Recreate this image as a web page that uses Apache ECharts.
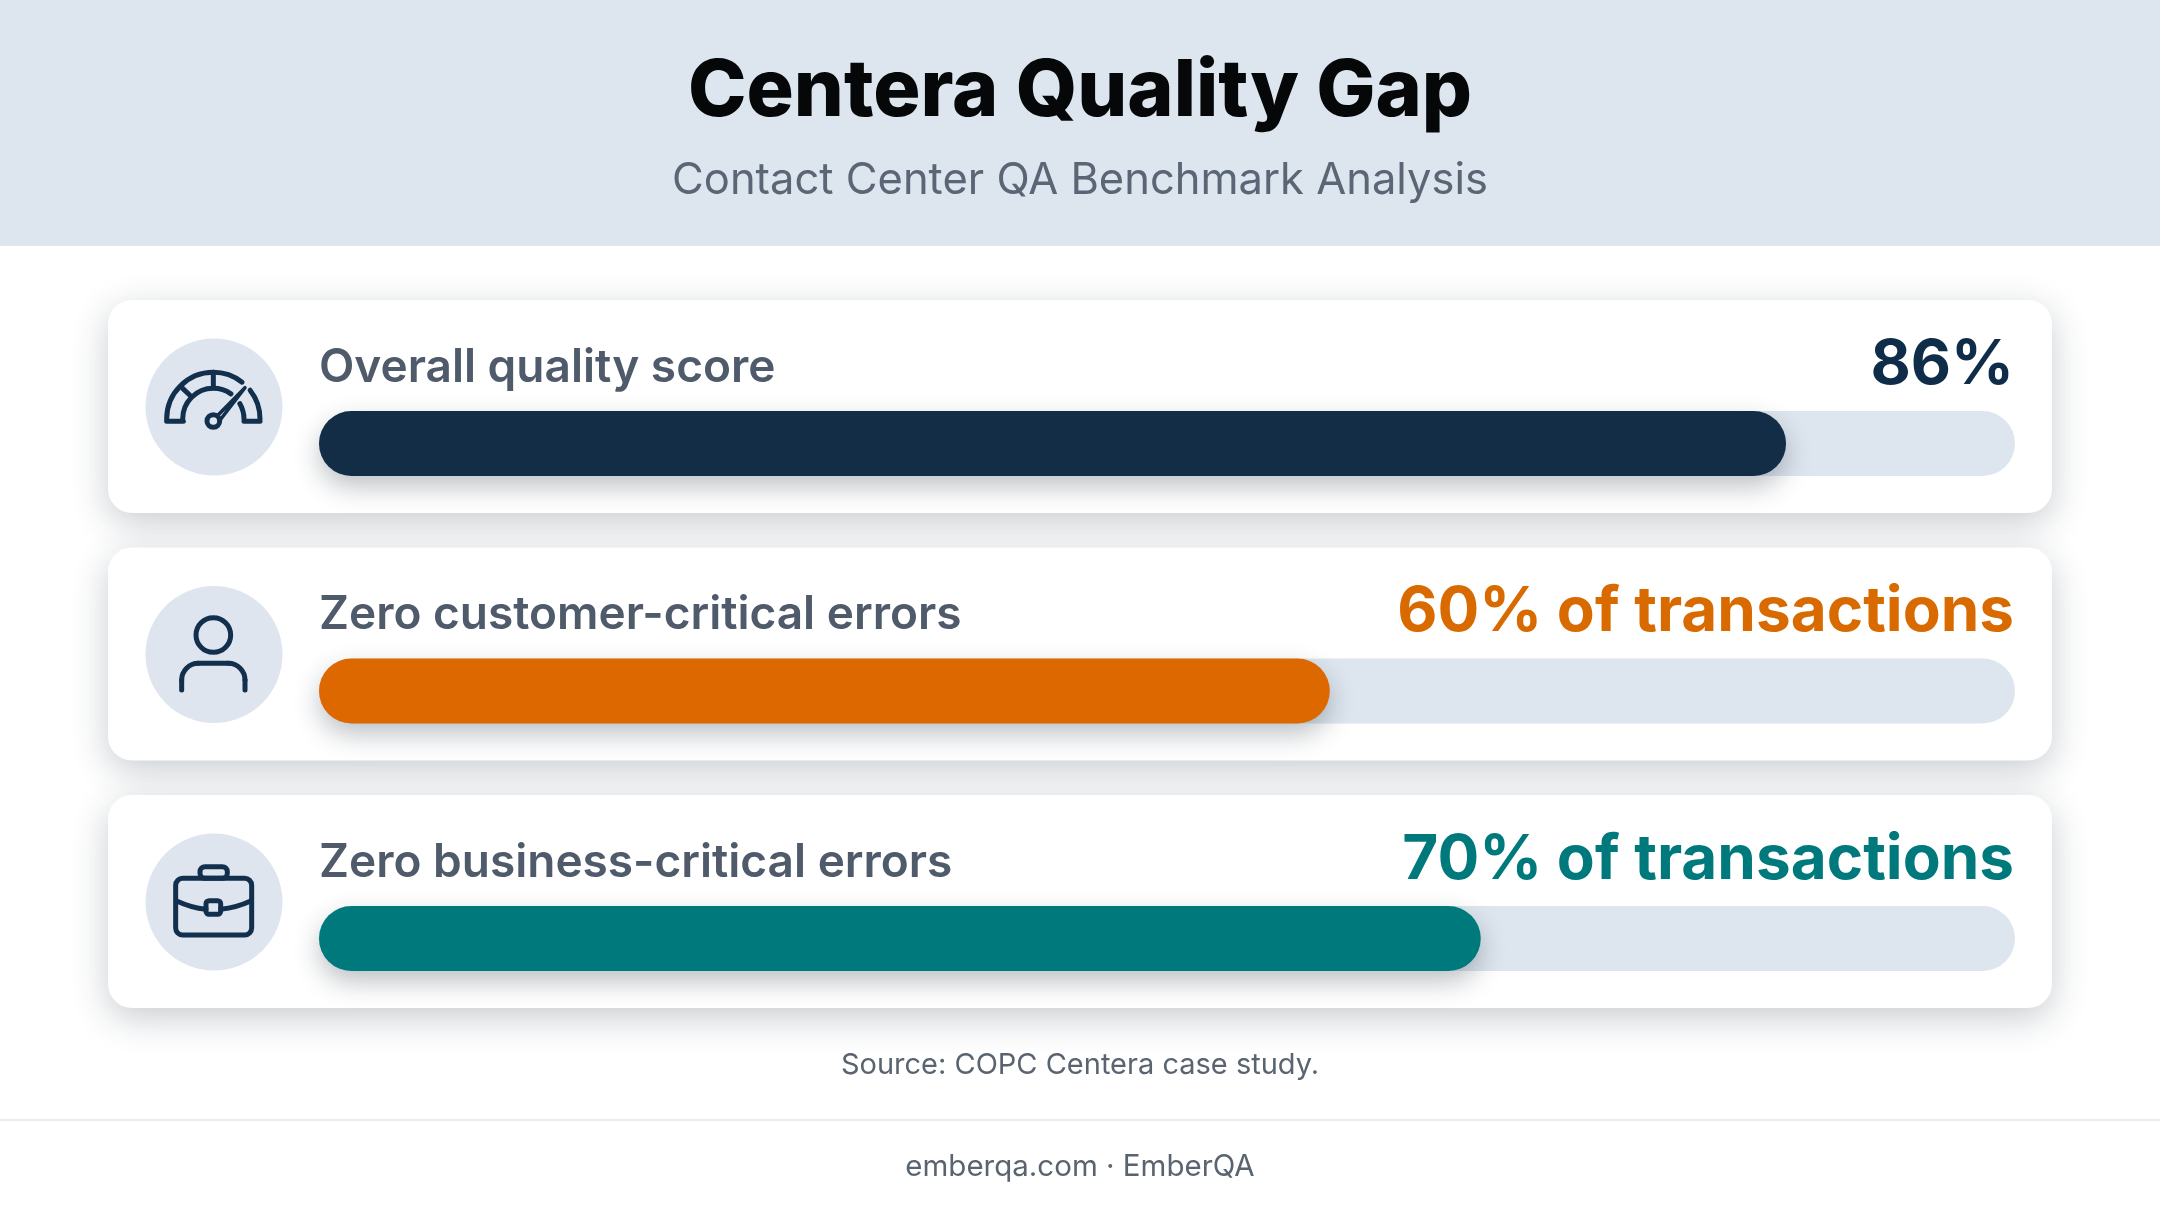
<!DOCTYPE html>
<html><head><meta charset="utf-8">
<style>html,body{margin:0;padding:0;background:#fff}#c{width:2160px;height:1206px}</style>
<script src="https://cdn.jsdelivr.net/npm/echarts@6/dist/echarts.min.js"></script>
</head><body><div id="c"></div>
<script>
// Row names and the values as printed in the picture
const categories = ['Overall quality score', 'Zero customer-critical errors', 'Zero business-critical errors'];
const valueLabels = ['86%', '60% of transactions', '70% of transactions'];
// Bar lengths as measured on the picture (percent of the track). The drawn bars differ slightly from the printed values.
const barLengths = [86.5, 59.6, 68.5];
const trackFull = [100, 100, 100];
const barColors = ['#132d47', '#dd6800', '#00797d'];
const valueColors = ['#0f2c48', '#d96a00', '#00797d'];
const titleText = 'Centera Quality Gap';
const subtitleText = 'Contact Center QA Benchmark Analysis';
const sourceText = 'Source: COPC Centera case study.';
const footerText = 'emberqa.com \u00b7 EmberQA';

const FONT = 'Inter';
const INK = '#12304d';
const PITCH = 247.5;
const g = [];
g.push({type:'rect', z:0, shape:{x:0,y:0,width:2160,height:246}, style:{fill:'#dde5ee'}});
g.push({type:'rect', z:0, shape:{x:0,y:1119,width:2160,height:2}, style:{fill:'#e9ebee'}});

const stroke = {stroke:INK, lineWidth:5, fill:'none', lineCap:'round', lineJoin:'round'};
// Icon helpers: coordinates are on a 3x grid relative to a 510-unit square around the circle
function U(ox, oy){ return { x:v=>ox+v/3, y:v=>oy+v/3, r:v=>v/3 }; }
function line(u,a,b,c,d){ g.push({type:'line', z:1, shape:{x1:u.x(a),y1:u.y(b),x2:u.x(c),y2:u.y(d)}, style:stroke}); }
function arc(u,cx,cy,r,s,e){ g.push({type:'arc', z:1, shape:{cx:u.x(cx),cy:u.y(cy),r:u.r(r),startAngle:s*Math.PI/180,endAngle:e*Math.PI/180,clockwise:true}, style:stroke}); }

for (let i=0;i<3;i++){
  const top = 300 + i*PITCH;
  g.push({type:'rect', z:0, shape:{x:108,y:top,width:1944,height:213,r:24},
    style:{fill:'#fff', shadowBlur:36, shadowOffsetY:10, shadowColor:'rgba(25,40,60,0.24)'}});
  g.push({type:'circle', z:1, shape:{cx:214,cy:top+107,r:68.5}, style:{fill:'#dee5ee'}});
}
// gauge
let u = U(130,320);
arc(u,250,297,140,180,308); arc(u,250,297,140,322,360);
arc(u,250,297,92,180,305); arc(u,250,297,92,330,360);
line(u,110,304,160,304); line(u,342,304,390,304);
line(u,250,157,250,203); line(u,158,205,182,228);
g.push({type:'polyline', z:1, shape:{points:[[u.x(262),u.y(287)],[u.x(345),u.y(203)],[u.x(268),u.y(303)]]}, style:{...stroke, lineWidth:3.5}});
g.push({type:'circle', z:1, shape:{cx:u.x(250),cy:u.y(303),r:u.r(19)}, style:stroke});
// person
u = U(130,570);
g.push({type:'circle', z:1, shape:{cx:u.x(250),cy:u.y(195),r:u.r(52)}, style:stroke});
line(u,155,360,155,330); arc(u,205,330,50,180,270); line(u,205,280,295,280); arc(u,295,330,50,270,360); line(u,345,330,345,360);
// briefcase
u = U(130,815);
g.push({type:'rect', z:1, shape:{x:u.x(210),y:u.y(155),width:u.r(82),height:u.r(35),r:5}, style:stroke});
g.push({type:'rect', z:1, shape:{x:u.x(137),y:u.y(190),width:u.r(228),height:u.r(170),r:7}, style:stroke});
g.push({type:'rect', z:1, shape:{x:u.x(228),y:u.y(257),width:u.r(44),height:u.r(41),r:3}, style:stroke});
g.push({type:'bezierCurve', z:1, shape:{x1:u.x(140),y1:u.y(258),cpx1:u.x(170),cpy1:u.y(272),cpx2:u.x(200),cpy2:u.y(280),x2:u.x(228),y2:u.y(283)}, style:stroke});
g.push({type:'bezierCurve', z:1, shape:{x1:u.x(272),y1:u.y(283),cpx1:u.x(300),cpy1:u.y(280),cpx2:u.x(332),cpy2:u.y(272),x2:u.x(362),y2:u.y(258)}, style:stroke});

function txt(text, y, size, weight, color){
  g.push({type:'text', z:5, x:1080, y:y, style:{text:text, x:0, y:0, align:'center', verticalAlign:'middle',
    font: weight+' '+size+'px '+FONT, fill:color}});
}
txt(titleText, 92, 78.8, 800, '#050708');
txt(subtitleText, 181, 43.5, 400, '#5a6675');
txt(sourceText, 1065, 29, 400, '#5a6470');
txt(footerText, 1167, 29.5, 400, '#5a6470');

const chart = echarts.init(document.getElementById('c'), null, {renderer:'canvas', width:2160, height:1206});
chart.setOption({
  animation:false,
  backgroundColor:'#ffffff',
  graphic:{elements:g},
  grid:{left:319, top:443.5-PITCH/2, width:1696, height:PITCH*3, containLabel:false},
  xAxis:{type:'value', min:0, max:100, show:false},
  yAxis:{type:'category', inverse:true, data:categories, show:false},
  series:[
    {type:'bar', name:'Track', data:trackFull.map((v,i)=>({value:v,label:{color:valueColors[i]}})), barWidth:65, barGap:'-100%', silent:true, z:2,
     itemStyle:{color:'#dde5ee', borderRadius:32.5},
     label:{show:true, position:[1695,-46], align:'right', verticalAlign:'middle',
       fontFamily:FONT, fontSize:62, fontWeight:700,
       formatter:p=>valueLabels[p.dataIndex]}},
    {type:'bar', name:'Value', data:barLengths.map((v,i)=>({value:v,
        itemStyle:{color:barColors[i], borderRadius:32.5, shadowBlur:26, shadowOffsetY:11, shadowOffsetX:0, shadowColor:'rgba(20,35,50,0.28)'}})),
     barWidth:65, silent:true, z:3,
     label:{show:true, position:[0,-43], align:'left', verticalAlign:'middle',
       fontFamily:FONT, fontSize:46, fontWeight:600, color:'#4f5b6b',
       formatter:p=>categories[p.dataIndex]}}
  ]
});
</script></body></html>
